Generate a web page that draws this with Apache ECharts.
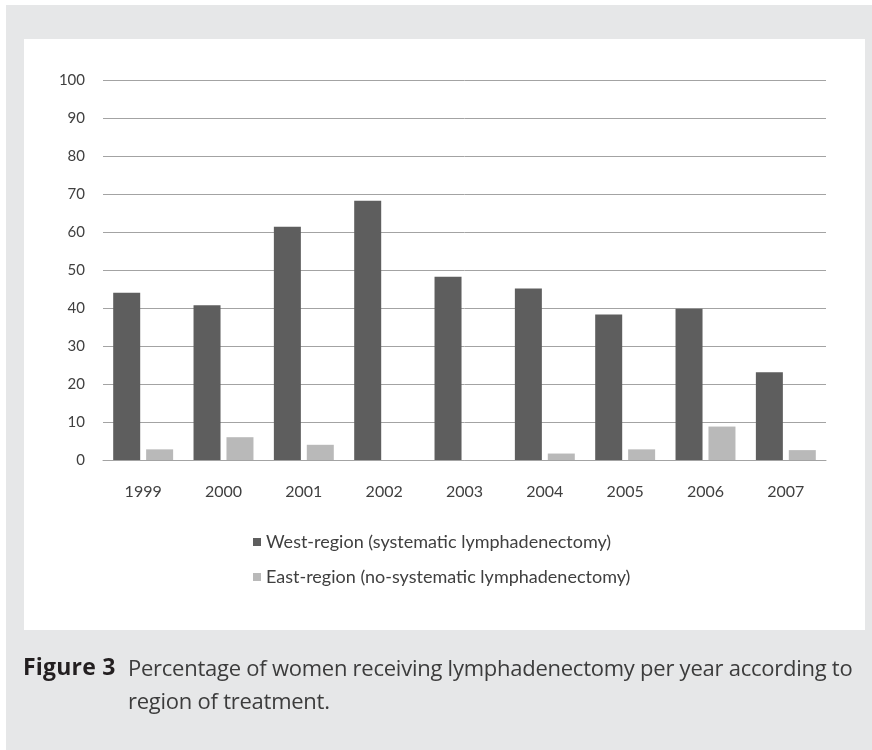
<!DOCTYPE html>
<html>
<head>
<meta charset="utf-8">
<script src="https://cdn.jsdelivr.net/npm/echarts@6/dist/echarts.min.js"></script>
<style>
  html, body { margin: 0; padding: 0; background: #ffffff; width: 872px; height: 750px; overflow: hidden; }
  #outer { position: absolute; left: 6px; top: 5px; width: 866px; height: 745px; background: #e6e7e8; }
  #panel { position: absolute; left: 24px; top: 39px; width: 841px; height: 591px; background: #ffffff; }
  #chart { position: absolute; left: 0; top: 0; width: 872px; height: 750px; }
  .cap { position: absolute; font-family: "Open Sans", sans-serif; font-size: 22px; color: #3c3c3c; white-space: nowrap; line-height: 32px; }
  #figlabel { left: 23px; top: 650px; font-size: 23px; font-weight: bold; color: #231f20; letter-spacing: 0.2px; }
  #cap1 { left: 128px; top: 651px; letter-spacing: -0.25px; }
  #cap2 { left: 128px; top: 684px; letter-spacing: -0.25px; }
</style>
</head>
<body>
<div id="outer"></div>
<div id="panel"></div>
<div id="chart"></div>
<div class="cap" id="figlabel">Figure 3</div>
<div class="cap" id="cap1">Percentage of women receiving lymphadenectomy per year according to</div>
<div class="cap" id="cap2">region of treatment.</div>
<script>
const years = ['1999', '2000', '2001', '2002', '2003', '2004', '2005', '2006', '2007'];
const westValues = [44.0, 40.7, 61.4, 68.2, 48.2, 45.1, 38.3, 39.8, 23.1];
const eastValues = [2.8, 6.0, 4.0, 0, 0, 1.7, 2.8, 8.8, 2.6];
const westName = 'West-region (systematic lymphadenectomy)';
const eastName = 'East-region (no-systematic lymphadenectomy)';
const yTicks = { min: 0, max: 100, interval: 10 };

const chart = echarts.init(document.getElementById('chart'), null, { renderer: 'canvas' });
const font = 'Lato, "Open Sans", sans-serif';
chart.setOption({
  backgroundColor: 'transparent',
  animation: false,
  grid: { left: 103, right: 46, top: 80, bottom: 290, containLabel: false },
  legend: {
    orient: 'vertical',
    left: 248,
    top: 528,
    itemWidth: 8,
    itemHeight: 8,
    itemGap: 17,
    icon: 'rect',
    textStyle: { fontFamily: font, fontSize: 18, color: '#404040' },
    data: [westName, eastName]
  },
  xAxis: {
    type: 'category',
    data: years,
    axisTick: { show: false },
    axisLine: { lineStyle: { color: '#a3a3a3', width: 1 } },
    axisLabel: { fontFamily: font, fontSize: 16, color: '#404040', margin: 24 }
  },
  yAxis: {
    type: 'value',
    min: yTicks.min,
    max: yTicks.max,
    interval: yTicks.interval,
    axisLine: { show: false },
    axisTick: { show: false },
    axisLabel: { fontFamily: font, fontSize: 15, color: '#404040', margin: 18 },
    splitLine: { lineStyle: { color: '#a3a3a3', width: 1 } }
  },
  series: [
    { name: westName, type: 'bar', data: westValues, barWidth: 27, barGap: '22%', itemStyle: { color: '#5e5e5e' } },
    { name: eastName, type: 'bar', data: eastValues, barWidth: 27, itemStyle: { color: '#b9b9b9' } }
  ]
});
</script>
</body>
</html>
